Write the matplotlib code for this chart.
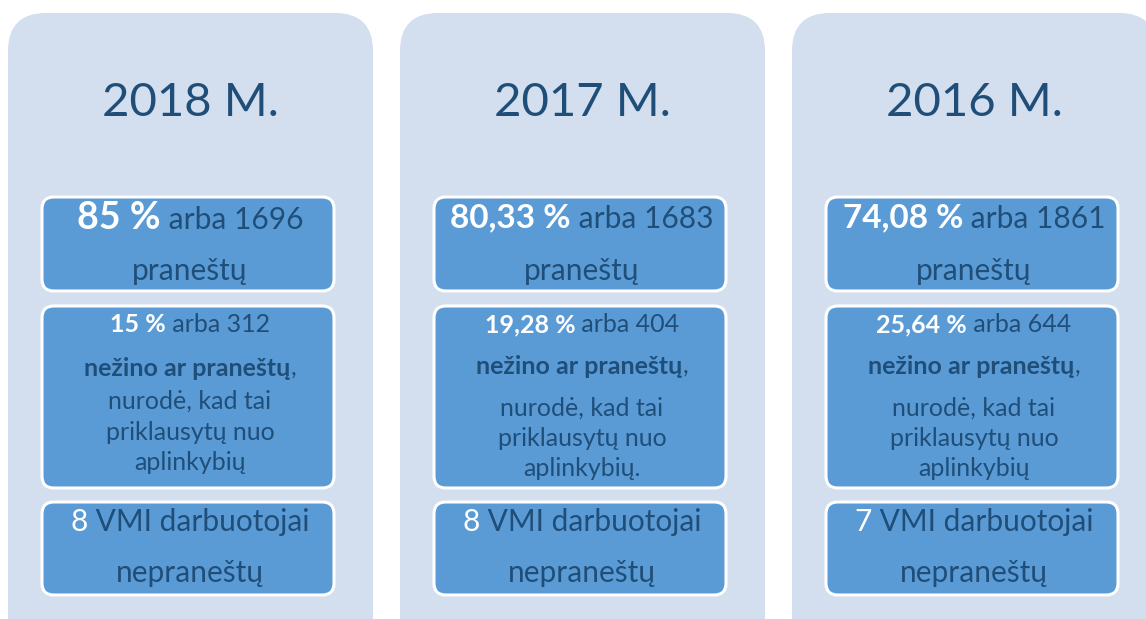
import matplotlib.pyplot as plt
from matplotlib.patches import FancyBboxPatch
from matplotlib.offsetbox import TextArea, HPacker, AnnotationBbox

plt.rcParams['font.family'] = ['Lato', 'DejaVu Sans']

years = ["2018 M.", "2017 M.", "2016 M."]
pct_reported = ["85 %", "80,33 %", "74,08 %"]
n_reported = [1696, 1683, 1861]
pct_unknown = ["15 %", "19,28 %", "25,64 %"]
n_unknown = [312, 404, 644]
unknown_end = ["aplinkybių", "aplinkybių.", "aplinkybių"]
n_not_reported = [8, 8, 7]

DARK = "#1F4E79"
PANEL = "#D3DEEF"
BOX = "#5B9BD5"

fig = plt.figure(figsize=(11.46, 6.19), dpi=100)
ax = fig.add_axes([0, 0, 1, 1])
ax.set_xlim(0, 1146)
ax.set_ylim(619, 0)
ax.axis("off")


def line(x, y, pieces):
    # pieces: (text, size, bold, colour)
    areas = [TextArea(t, textprops=dict(fontsize=s, color=c,
                                        fontweight="bold" if b else "normal"))
             for t, s, b, c in pieces]
    pack = HPacker(children=areas, pad=0, sep=0, align="baseline")
    ab = AnnotationBbox(pack, (x, y), frameon=False, box_alignment=(0.5, 0.5),
                        pad=0)
    ax.add_artist(ab)


def box(x0, y0, x1, y1):
    ax.add_patch(FancyBboxPatch((x0, y0), x1 - x0, y1 - y0,
                                boxstyle="round,pad=0,rounding_size=12",
                                fc=BOX, ec="white", lw=2.2))


panel_x = [8, 400, 792]
for i, px in enumerate(panel_x):
    ax.add_patch(FancyBboxPatch((px, 13), 365, 660,
                                boxstyle="round,pad=0,rounding_size=38",
                                fc=PANEL, ec="none"))
    cx = px + 182
    ax.text(cx, 103, years[i], fontsize=34, color=DARK, ha="center", va="center")

    bx0, bx1 = px + 34, px + 326
    # box 1
    box(bx0, 197, bx1, 291)
    big = 27 if i == 0 else 24
    line(cx, 218, [(pct_reported[i], big, True, "white"),
                   (" arba %d" % n_reported[i], 21.5, False, DARK)])
    line(cx, 271, [("praneštų", 21.5, False, DARK)])

    # box 2
    box(bx0, 306, bx1, 488)
    line(cx, 325, [(pct_unknown[i], 18, True, "white"),
                   (" arba %d" % n_unknown[i], 18, False, DARK)])
    y2 = 368 if i == 0 else 366
    line(cx, y2, [("nežino ar praneštų", 18, True, DARK),
                  (",", 18, False, DARK)])
    y3 = 401 if i == 0 else 408
    line(cx, y3, [("nurodė, kad tai", 18, False, DARK)])
    line(cx, y3 + 31, [("priklausytų nuo", 18, False, DARK)])
    line(cx, y3 + 61, [(unknown_end[i], 18, False, DARK)])

    # box 3
    box(bx0, 502, bx1, 595)
    line(cx, 522, [("%d" % n_not_reported[i], 21.5, False, "white"),
                   (" VMI darbuotojai", 21.5, False, DARK)])
    line(cx, 573, [("nepraneštų", 21.5, False, DARK)])

fig.savefig("out.png", dpi=100)
